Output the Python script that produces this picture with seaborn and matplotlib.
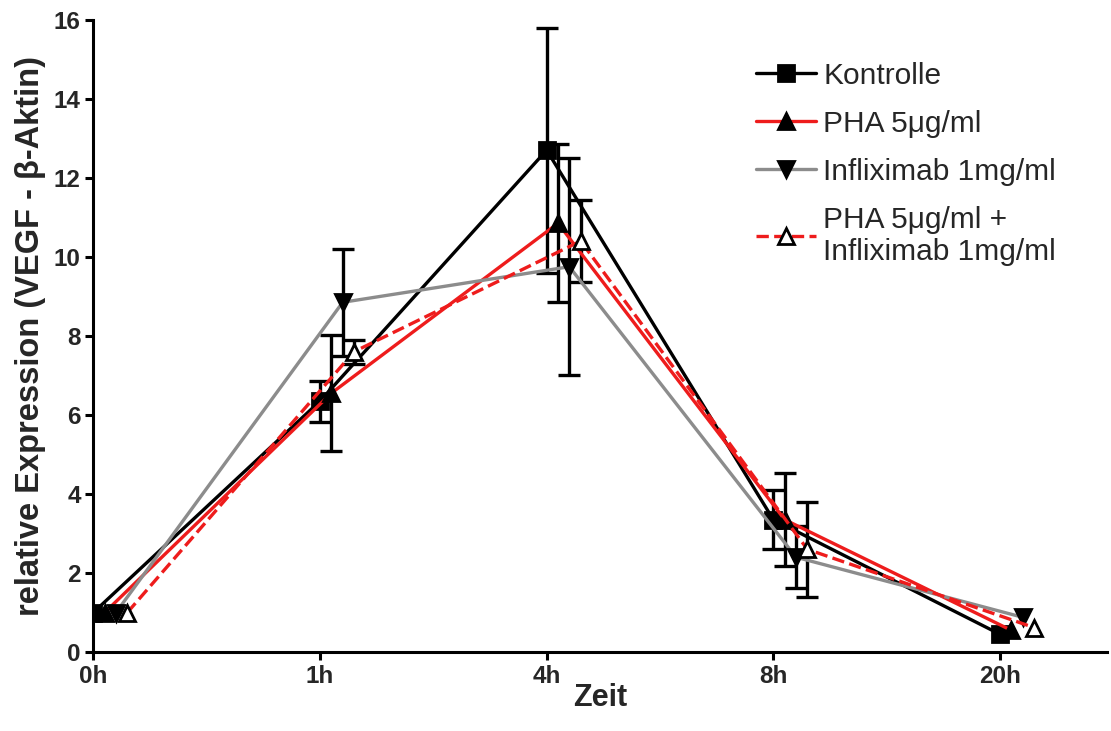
"""
VEGF-Expression über die Zeit (relative Expression VEGF - beta-Aktin)
"""

import numpy as np
import pandas as pd
import matplotlib
matplotlib.use("Agg")
import matplotlib.pyplot as plt
import seaborn as sns

# Daten
zeitpunkte = ["0h", "1h", "4h", "8h", "20h"]
gruppen = ["Kontrolle", "PHA 5μg/ml", "Infliximab 1mg/ml",
           "PHA 5μg/ml +\nInfliximab 1mg/ml"]

kontrolle = [1.0, 6.35, 12.7, 3.35, 0.45]
kontrolle_err = [0.0, 0.52, 3.1, 0.75, 0.0]
pha = [1.0, 6.55, 10.85, 3.35, 0.55]
pha_err = [0.0, 1.47, 2.0, 1.17, 0.0]
inflix = [1.0, 8.85, 9.75, 2.4, 0.88]
inflix_err = [0.0, 1.35, 2.75, 0.78, 0.0]
pha_inflix = [1.0, 7.6, 10.4, 2.6, 0.62]
pha_inflix_err = [0.0, 0.3, 1.03, 1.2, 0.0]

werte = [kontrolle, pha, inflix, pha_inflix]
fehler = [kontrolle_err, pha_err, inflix_err, pha_inflix_err]

# Stil je Gruppe
farben = ["black", "#ee1c1c", "#8c8c8c", "#ee1c1c"]
linien = ["-", "-", "-", "--"]
marker = ["s", "^", "v", "^"]
marker_fc = ["black", "black", "black", "white"]
marker_ms = [11, 12, 12, 12]

sns.set_style("ticks")
plt.rcParams["font.family"] = ["Liberation Sans", "DejaVu Sans"]

fig = plt.figure(figsize=(11.11, 7.31), dpi=100)
ax = fig.add_axes([0.084, 0.108, 0.912, 0.865])

dodge = 0.05
for i, name in enumerate(gruppen):
    df = pd.DataFrame({"zeit": np.arange(len(zeitpunkte)) + i * dodge,
                       "wert": werte[i], "err": fehler[i]})
    sns.lineplot(data=df, x="zeit", y="wert", ax=ax, color=farben[i],
                 linestyle=linien[i], linewidth=2.4, marker=marker[i],
                 markersize=marker_ms[i], markerfacecolor=marker_fc[i],
                 markeredgecolor="black", markeredgewidth=2,
                 errorbar=None, label=name, zorder=3 + i * 0.1)
    sub = df[df["err"] > 0]
    ax.errorbar(sub["zeit"], sub["wert"], yerr=sub["err"], fmt="none",
                ecolor="black", elinewidth=2.4, capsize=8, capthick=2.4,
                zorder=2.5)

ax.set_xlim(0, 4.47)
ax.set_ylim(0, 16)
ax.set_xticks(range(len(zeitpunkte)))
ax.set_xticklabels(zeitpunkte)
ax.set_yticks(range(0, 17, 2))

for lab in ax.get_xticklabels() + ax.get_yticklabels():
    lab.set_fontweight("bold")
ax.tick_params(axis="both", labelsize=17.5, width=2.2, length=6, color="black",
               pad=3)

ax.set_xlabel("Zeit", fontsize=22, fontweight="bold", labelpad=-3)
ax.set_ylabel("relative Expression (VEGF - β-Aktin)", fontsize=23.5,
              fontweight="bold", labelpad=6)

sns.despine(ax=ax)
for s in ["left", "bottom"]:
    ax.spines[s].set_linewidth(2.2)
    ax.spines[s].set_color("black")

ax.legend(loc="upper left", bbox_to_anchor=(0.667, 0.936),
          bbox_transform=fig.transFigure, frameon=False, fontsize=21.5,
          handlelength=2.0, handletextpad=0.25, labelspacing=0.67,
          borderpad=0, numpoints=1)

fig.savefig("out.png", dpi=100)
